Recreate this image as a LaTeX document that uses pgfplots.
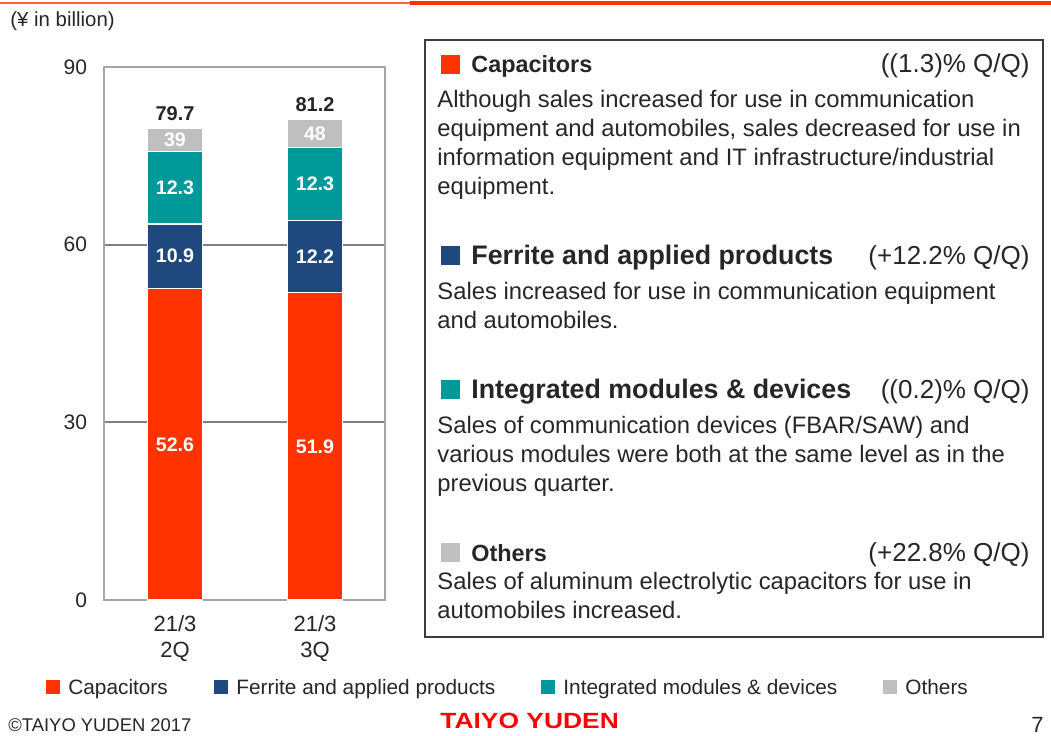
\documentclass[border=0pt]{standalone}
\usepackage{graphicx}
\usepackage{pgfplots}
\pgfplotsset{compat=1.18}
\usepackage{fontspec}
\setmainfont{Liberation Sans}
\definecolor{capc}{RGB}{255,51,0}
\definecolor{ferc}{RGB}{31,73,125}
\definecolor{intc}{RGB}{0,153,153}
\definecolor{othc}{RGB}{191,191,191}
\definecolor{txt}{RGB}{38,38,38}
\definecolor{gridc}{RGB}{128,128,128}
\definecolor{framec}{RGB}{166,166,166}
\definecolor{logored}{RGB}{255,0,0}

\newcommand\fs[1]{\fontsize{#1}{1.2\dimexpr #1pt\relax}\selectfont}

\begin{document}
\begin{tikzpicture}
% px grid: 1 px = 0.5pt, origin top left
\begin{scope}[x=0.5pt,y=-0.5pt,body/.style={anchor=base west,text=txt,font=\fs{11.9},inner sep=0}]
\path[use as bounding box] (0,0) rectangle (1051,735);
% top rule
\draw[capc!75,line width=1pt] (0,3) -- (410,3);
\draw[capc,line width=2pt] (410,3) -- (1051,3);
\node[anchor=west,text=txt,font=\fs{10.2},inner sep=0] at (10,21) {(¥ in billion)};
% text box
\draw[txt!90,line width=1pt] (425,40) rectangle (1043,637);
% section 1
\fill[capc] (441,55) rectangle (460,74);
\node[anchor=base west,text=txt,font=\fs{11.7}\bfseries,inner sep=0] at (471,72) {Capacitors};
\node[anchor=base east,text=txt,font=\fs{13},inner sep=0] at (1030,72) {((1.3)\% Q/Q)};
\node[body] at (437,107) {Although sales increased for use in communication};
\node[body] at (437,136) {equipment and automobiles, sales decreased for use in};
\node[body] at (437,165) {information equipment and IT infrastructure/industrial};
\node[body] at (437,194) {equipment.};
% section 2
\fill[ferc] (441,246) rectangle (460,265);
\node[anchor=base west,text=txt,font=\fs{13.4}\bfseries,inner sep=0] at (471,264) {Ferrite and applied products};
\node[anchor=base east,text=txt,font=\fs{13},inner sep=0] at (1030,264) {(+12.2\% Q/Q)};
\node[body] at (437,299) {Sales increased for use in communication equipment};
\node[body] at (437,328) {and automobiles.};
% section 3
\fill[intc] (441,380) rectangle (460,399);
\node[anchor=base west,text=txt,font=\fs{13.4}\bfseries,inner sep=0] at (471,398) {Integrated modules \& devices};
\node[anchor=base east,text=txt,font=\fs{13},inner sep=0] at (1030,398) {((0.2)\% Q/Q)};
\node[body] at (437,433) {Sales of communication devices (FBAR/SAW) and};
\node[body] at (437,462) {various modules were both at the same level as in the};
\node[body] at (437,491) {previous quarter.};
% section 4
\fill[othc] (441,543) rectangle (460,562);
\node[anchor=base west,text=txt,font=\fs{11.7}\bfseries,inner sep=0] at (471,561) {Others};
\node[anchor=base east,text=txt,font=\fs{13},inner sep=0] at (1030,561) {(+22.8\% Q/Q)};
\node[body] at (437,589) {Sales of aluminum electrolytic capacitors for use in};
\node[body] at (437,618) {automobiles increased.};
% legend
\fill[capc] (46,680) rectangle (60,694);
\node[anchor=base west,text=txt,font=\fs{10.4},inner sep=0] at (68,694) {Capacitors};
\fill[ferc] (214,680) rectangle (228,694);
\node[anchor=base west,text=txt,font=\fs{10.4},inner sep=0] at (236,694) {Ferrite and applied products};
\fill[intc] (541,680) rectangle (555,694);
\node[anchor=base west,text=txt,font=\fs{10.4},inner sep=0] at (563,694) {Integrated modules \& devices};
\fill[othc] (883,680) rectangle (897,694);
\node[anchor=base west,text=txt,font=\fs{10.4},inner sep=0] at (905,694) {Others};
% footer
\node[anchor=base west,text=txt,font=\fs{9.2},inner sep=0] at (8,731) {©TAIYO YUDEN 2017};
\node[anchor=base west,text=logored,font=\fs{11}\bfseries,inner sep=0] at (440,728) {\scalebox{1.2}[1]{TAIYO YUDEN}};
\node[anchor=base east,text=txt,font=\fs{11},inner sep=0] at (1044,732) {7};
\end{scope}

\begin{axis}[
  at={(52pt,-300pt)}, anchor=south west,
  scale only axis, width=140.5pt, height=266.5pt,
  ybar stacked, bar width=0.393,
  xmin=-0.507, xmax=1.5, ymin=0, ymax=90,
  xtick={0,1}, xticklabels={21/3\\2Q,21/3\\3Q},
  x tick label style={align=center,font=\fs{11},text=txt,yshift=-4pt},
  ytick={0,30,60,90},
  y tick label style={font=\fs{10.5},text=txt,xshift=-5pt},
  /pgf/number format/assume math mode=true,
  major tick length=0pt,
  ymajorgrids, grid style={gridc,line width=0.9pt},
  axis line style={framec,line width=1pt},
  every axis plot/.append style={draw=white,line width=0.6pt},
  nodes near coords style={font=\fs{9.8}\bfseries,text=white},
]
\addplot[fill=capc,nodes near coords,point meta=explicit symbolic] coordinates {(0,52.6)[52.6] (1,51.9)[51.9]};
\addplot[fill=ferc,nodes near coords,point meta=explicit symbolic] coordinates {(0,10.9)[10.9] (1,12.2)[12.2]};
\addplot[fill=intc,nodes near coords,point meta=explicit symbolic] coordinates {(0,12.3)[12.3] (1,12.3)[12.3]};
\addplot[fill=othc,nodes near coords,point meta=explicit symbolic] coordinates {(0,3.9)[39] (1,4.8)[48]};
\node[font=\fs{10}\bfseries,text=txt,anchor=south] at (axis cs:0,79.8) {79.7};
\node[font=\fs{10}\bfseries,text=txt,anchor=south] at (axis cs:1,81.3) {81.2};
\end{axis}
\end{tikzpicture}
\end{document}
